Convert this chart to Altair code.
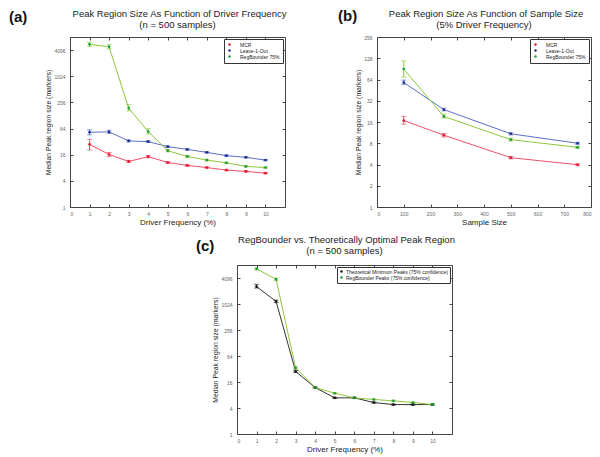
import altair as alt
import pandas as pd

FONT = "Liberation Sans"

# ---------------- data ----------------
freq = [1, 2, 3, 4, 5, 6, 7, 8, 9, 10]

a_mcr = [27.7, 16.2, 11.2, 14.4, 10.6, 9.05, 8.1, 7.07, 6.6, 6.0]
a_mcr_lo = [20.5, 14.6, 10.6, 13.6, 10.1, 8.7, 7.8, 6.8, 6.35, 5.8]
a_mcr_hi = [36.0, 18.0, 11.9, 15.3, 11.1, 9.4, 8.4, 7.35, 6.85, 6.2]

a_loo = [52.6, 53.6, 33.2, 32.0, 24.5, 21.2, 18.1, 15.2, 13.9, 12.0]
a_loo_lo = [45.8, 49.0, 31.5, 30.5, 23.5, 20.4, 17.4, 14.6, 13.4, 11.6]
a_loo_hi = [59.7, 58.5, 35.0, 33.6, 25.5, 22.0, 18.8, 15.8, 14.4, 12.4]

a_rb = [5550, 4880, 189, 54.6, 19.8, 14.6, 12.0, 10.4, 8.6, 8.1]
a_rb_lo = [4980, 4390, 164, 48.0, 18.6, 13.9, 11.5, 10.0, 8.3, 7.8]
a_rb_hi = [6160, 5440, 226, 63.0, 21.0, 15.3, 12.5, 10.8, 8.9, 8.4]

samples = [100, 250, 500, 750]
b_mcr = [16.8, 10.4, 5.0, 3.97]
b_mcr_lo = [14.9, 9.85, 4.8, 3.85]
b_mcr_hi = [19.2, 11.0, 5.2, 4.1]
b_loo = [58.0, 24.0, 10.9, 8.0]
b_loo_lo = [54.5, 23.0, 10.5, 7.75]
b_loo_hi = [62.7, 25.0, 11.3, 8.25]
b_rb = [90.0, 19.2, 9.0, 7.0]
b_rb_lo = [69.0, 18.2, 8.6, 6.75]
b_rb_hi = [117.0, 20.7, 9.4, 7.25]

c_theo = [2590, 1177, 28.0, 11.9, 6.87, 6.87, 5.35, 4.8, 4.8, 4.8]
c_theo_lo = [2400, 1100, 26.5, 11.5, 6.65, 6.65, 5.2, 4.65, 4.65, 4.65]
c_theo_hi = [2920, 1260, 29.5, 12.3, 7.1, 7.1, 5.5, 4.95, 4.95, 4.95]
c_rb = [6650, 3820, 34.0, 11.9, 8.8, 6.87, 6.3, 5.86, 5.35, 4.8]
c_rb_lo = [6300, 3550, 32.0, 11.5, 8.5, 6.65, 6.1, 5.7, 5.2, 4.65]
c_rb_hi = [7000, 4100, 36.0, 12.3, 9.1, 7.1, 6.5, 6.05, 5.5, 4.95]

names_ab = ["MCR", "Leave-1-Out", "RegBounder 75%"]
names_c = ["Theoretical Minimum Peaks (75% confidence)", "RegBounder Peaks (75% confidence)"]

line_ab = ["#f2506a", "#5b6fc4", "#8cc83c"]
point_ab = ["#e8102a", "#1a2a8a", "#1a9a3a"]
line_c = ["#333333", "#8cc83c"]
point_c = ["#111111", "#1a9a3a"]

ytitle = "Median Peak region size (markers)"


def frame(xs, groups):
    rows = []
    for name, ys, lo, hi in groups:
        for x, y, l, h in zip(xs, ys, lo, hi):
            rows.append({"x": x, "y": y, "lo": l, "hi": h, "series": name})
    return pd.DataFrame(rows)


def panel(df, order, lcol, pcol, xdom, xvals, ydom, yvals, xtitle, tlines,
          label, w, h, legend_pad, label_off, tag_dx, tag_dy, t1_dy, t2_dy):
    xsc = alt.Scale(domain=xdom, nice=False, zero=False)
    ysc = alt.Scale(type="log", base=2, domain=ydom, nice=False)
    common = dict(grid=False, domain=False, tickSize=3, tickColor="#444",
                  labelFont=FONT, labelFontSize=5, labelColor="#666",
                  titleFont=FONT, titleFontWeight="normal", titleColor="#222")
    xbot = alt.Axis(values=xvals, format="d", offset=-3, labelPadding=4,
                    title=xtitle, titleFontSize=8, titlePadding=2, **common)
    yleft = alt.Axis(values=yvals, format="d", offset=-3, labelPadding=5,
                     title=ytitle, titleFontSize=6.8, titlePadding=2, **common)
    xtop = alt.Axis(values=xvals, orient="top", labels=False, offset=-3,
                    title="", **common)
    yright = alt.Axis(values=yvals, orient="right", labels=False, offset=-3,
                      title="", **common)

    lscale = alt.Scale(domain=order, range=lcol)
    base = alt.Chart(df)
    lines = base.mark_line(strokeWidth=1).encode(
        x=alt.X("x:Q", scale=xsc, axis=xbot),
        y=alt.Y("y:Q", scale=ysc, axis=yleft),
        color=alt.Color("series:N", scale=lscale, legend=None),
    )
    rules = base.mark_rule(strokeWidth=1).encode(
        x=alt.X("x:Q", scale=xsc, axis=None),
        y=alt.Y("lo:Q", scale=ysc, axis=None),
        y2="hi:Q",
        color=alt.Color("series:N", scale=lscale, legend=None),
    )
    caps_lo = base.mark_tick(orient="horizontal", size=5, thickness=1).encode(
        x=alt.X("x:Q", scale=xsc, axis=None),
        y=alt.Y("lo:Q", scale=ysc, axis=None),
        color=alt.Color("series:N", scale=lscale, legend=None),
    )
    caps_hi = base.mark_tick(orient="horizontal", size=5, thickness=1).encode(
        x=alt.X("x:Q", scale=xsc, axis=None),
        y=alt.Y("hi:Q", scale=ysc, axis=None),
        color=alt.Color("series:N", scale=lscale, legend=None),
    )
    pts = base.mark_circle(size=7, opacity=1).encode(
        x=alt.X("x:Q", scale=xsc, axis=xtop),
        y=alt.Y("y:Q", scale=ysc, axis=yright),
        color=alt.Color("series:N", scale=alt.Scale(domain=order, range=pcol),
                        sort=order,
                        legend=alt.Legend(title=None, orient="top-right", offset=2,
                                          fillColor="white", strokeColor="#333",
                                          padding=legend_pad, labelFont=FONT,
                                          labelFontSize=5, labelColor="#222",
                                          symbolSize=6, symbolType="circle",
                                          symbolStrokeWidth=0, rowPadding=0,
                                          labelOffset=label_off, labelLimit=200)),
    )
    tag = alt.Chart(pd.DataFrame({"t": [label]})).mark_text(
        align="left", baseline="top", font=FONT, fontSize=15, fontWeight="bold",
        color="#111").encode(text="t:N", x=alt.value(tag_dx), y=alt.value(tag_dy))
    t1 = alt.Chart(pd.DataFrame({"t": [tlines[0]]})).mark_text(
        align="center", baseline="middle", font=FONT, fontSize=9.5,
        color="#222").encode(text="t:N", x=alt.value(w / 2 + 2), y=alt.value(t1_dy))
    t2 = alt.Chart(pd.DataFrame({"t": [tlines[1]]})).mark_text(
        align="center", baseline="middle", font=FONT, fontSize=9.5,
        color="#222").encode(text="t:N", x=alt.value(w / 2), y=alt.value(t2_dy))

    return alt.layer(lines, rules, caps_lo, caps_hi, pts, tag, t1, t2).resolve_scale(
        color="independent").resolve_axis(x="independent", y="independent").properties(
        width=w, height=h)


df_a = frame(freq, [(names_ab[0], a_mcr, a_mcr_lo, a_mcr_hi),
                    (names_ab[1], a_loo, a_loo_lo, a_loo_hi),
                    (names_ab[2], a_rb, a_rb_lo, a_rb_hi)])
df_b = frame(samples, [(names_ab[0], b_mcr, b_mcr_lo, b_mcr_hi),
                       (names_ab[1], b_loo, b_loo_lo, b_loo_hi),
                       (names_ab[2], b_rb, b_rb_lo, b_rb_hi)])
df_c = frame(freq, [(names_c[0], c_theo, c_theo_lo, c_theo_hi),
                    (names_c[1], c_rb, c_rb_lo, c_rb_hi)])

pow_a = [1, 4, 16, 64, 256, 1024, 4096]
pow_b = [1, 2, 4, 8, 16, 32, 64, 128, 256]

pa = panel(df_a, names_ab, line_ab, point_ab, [0, 11], list(range(0, 11)), [1, 8192], pow_a,
           "Driver Frequency (%)",
           ["Peak Region Size As Function of Driver Frequency", "(n = 500 samples)"],
           "(a)", 215, 170, 3, 8, -61, -27, -23, -12)
pb = panel(df_b, names_ab, line_ab, point_ab, [0, 800], list(range(0, 801, 100)), [1, 256], pow_b,
           "Sample Size",
           ["Peak Region Size As Function of Sample Size", "(5% Driver Frequency)"],
           "(b)", 214, 170, 3, 8, -39, -28, -23, -12)
pc = panel(df_c, names_c, line_c, point_c, [0, 11], list(range(0, 11)), [1, 8192], pow_a,
           "Driver Frequency (%)",
           ["RegBounder vs. Theoretically Optimal Peak Region", "(n = 500 samples)"],
           "(c)", 215, 169, 2, 2, -41, -26, -25, -14)

spacer = alt.Chart(pd.DataFrame({"v": [0]})).mark_point(opacity=0).encode(
    x=alt.value(0), y=alt.value(0)).properties(
    width=167, height=169, view=alt.ViewBackground(strokeOpacity=0))

top = alt.hconcat(pa, pb, spacing=92, bounds="flush")
bottom = alt.hconcat(spacer, pc, spacing=0, bounds="flush")

chart = alt.vconcat(top, bottom, spacing=7).properties(
    padding=0, background="white").configure_view(stroke="#444", strokeWidth=1)

chart.save("out.html", embed_options={"renderer": "svg", "actions": False})
